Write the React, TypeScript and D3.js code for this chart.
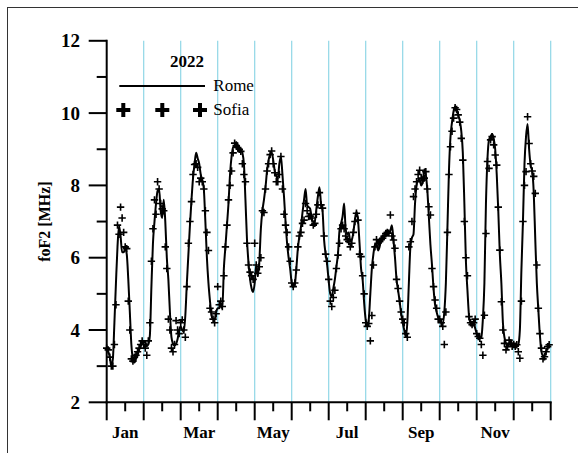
import React from "react";
import * as d3 from "d3";

const monthNames = ["Jan", "Feb", "Mar", "Apr", "May", "Jun", "Jul", "Aug", "Sep", "Oct", "Nov", "Dec"];
const labelledMonths = ["Jan", "Mar", "May", "Jul", "Sep", "Nov"];
const yMajorTicks = [2, 4, 6, 8, 10, 12];
const yMinorTicks = [3, 5, 7, 9, 11];
const chartTitle = "2022";
const yTitle = "foF2 [MHz]";
const seriesNames = ["Rome", "Sofia"];

// hourly monthly median foF2 (MHz), hours 0..23, one row per month
const rome: number[][] = [
  [3.47, 3.4, 3.25, 3.0, 3.2, 4.2, 5.3, 6.3, 6.88, 6.6, 6.15, 6.15, 6.25, 6.1, 5.4, 4.5, 3.6, 3.2, 3.1, 3.2, 3.3, 3.45, 3.55, 3.62],
  [3.65, 3.68, 3.55, 3.6, 3.85, 5.2, 6.4, 7.0, 7.5, 7.85, 7.9, 7.3, 7.1, 7.6, 7.0, 6.0, 5.4, 4.5, 3.8, 3.62, 3.57, 3.62, 3.75, 4.0],
  [4.1, 4.0, 3.95, 4.4, 5.3, 6.1, 6.9, 7.6, 8.2, 8.6, 8.9, 8.75, 8.6, 8.3, 8.15, 7.9, 7.0, 6.0, 5.3, 4.8, 4.4, 4.3, 4.3, 4.5],
  [4.6, 4.6, 4.7, 4.6, 5.7, 6.3, 6.9, 7.5, 8.3, 8.8, 9.05, 9.1, 9.2, 9.1, 9.0, 9.0, 8.9, 8.6, 7.6, 6.5, 5.85, 5.4, 5.15, 5.05],
  [5.3, 5.8, 5.5, 5.9, 6.8, 7.3, 7.6, 7.95, 8.4, 8.7, 8.85, 8.9, 8.7, 8.4, 8.25, 8.2, 8.6, 8.8, 8.3, 7.7, 7.0, 6.4, 6.0, 5.7],
  [5.3, 5.18, 5.25, 5.7, 6.25, 6.6, 6.85, 7.25, 7.6, 7.9, 7.45, 7.4, 7.35, 7.1, 7.0, 7.0, 7.35, 7.7, 7.95, 7.5, 7.3, 6.5, 6.1, 5.8],
  [5.35, 5.0, 4.92, 5.15, 5.4, 5.75, 6.1, 6.75, 6.95, 7.14, 7.5, 6.8, 6.65, 6.7, 6.45, 6.5, 6.7, 7.05, 7.27, 7.05, 6.4, 5.7, 5.4, 4.75],
  [4.28, 4.14, 4.3, 5.0, 5.7, 6.1, 6.35, 6.38, 6.2, 6.3, 6.5, 6.55, 6.6, 6.62, 6.65, 6.67, 6.75, 6.9, 6.5, 6.0, 5.4, 5.1, 4.8, 4.45],
  [4.2, 4.0, 3.82, 4.2, 5.3, 6.3, 6.55, 6.65, 7.5, 8.0, 8.15, 8.15, 8.0, 8.1, 8.45, 8.3, 7.85, 7.1, 6.35, 5.8, 5.15, 4.7, 4.5, 4.35],
  [4.3, 4.2, 4.18, 4.5, 5.3, 6.8, 8.4, 9.35, 9.75, 10.05, 10.18, 10.1, 9.95, 9.8, 9.5, 8.9, 7.5, 5.9, 5.1, 4.4, 4.2, 4.18, 4.2, 4.05],
  [3.9, 3.8, 3.77, 3.8, 4.3, 5.3, 7.5, 8.75, 9.26, 9.35, 9.42, 9.3, 9.0, 8.3, 7.3, 6.1, 5.3, 4.2, 3.8, 3.63, 3.55, 3.6, 3.72, 3.6],
  [3.55, 3.6, 3.55, 3.6, 4.0, 5.66, 7.0, 8.6, 9.35, 9.7, 9.0, 8.55, 8.4, 7.8, 6.5, 5.3, 4.55, 3.85, 3.4, 3.28, 3.3, 3.4, 3.5, 3.6],
];

const sofia: number[][] = [
  [3.5, 3.45, 3.25, 3.0, 3.0, 3.6, 4.7, 6.9, 6.65, 7.4, 7.1, 6.7, 6.3, 6.25, 4.8, 4.0, 3.2, 3.14, 3.25, 3.3, 3.4, 3.5, 3.6, 3.7],
  [3.6, 3.5, 3.3, 3.7, 4.2, 5.9, 6.8, 7.6, 7.2, 8.1, 7.9, 7.5, 7.35, 7.3, 6.3, 5.7, 4.3, 4.0, 3.5, 3.4, 3.6, 4.26, 4.0, 3.9],
  [4.2, 4.28, 4.0, 3.8, 5.2, 6.4, 7.0, 7.55, 8.3, 8.58, 8.6, 8.5, 8.1, 8.2, 8.1, 7.9, 7.3, 6.7, 6.2, 4.6, 4.5, 4.3, 4.2, 4.45],
  [5.2, 4.7, 4.8, 4.65, 5.5, 6.3, 6.9, 7.6, 8.0, 8.4, 8.9, 9.17, 9.1, 9.05, 9.0, 8.94, 8.6, 8.3, 8.1, 6.4, 5.8, 5.6, 5.5, 5.4],
  [6.4, 5.8, 5.57, 5.75, 6.0, 7.3, 7.25, 7.9, 8.4, 8.6, 8.85, 8.95, 8.6, 8.35, 8.1, 8.1, 8.3, 8.8, 7.9, 7.2, 6.9, 6.7, 6.3, 5.9],
  [5.3, 5.2, 5.3, 5.66, 6.3, 6.6, 6.7, 6.95, 7.04, 7.5, 7.3, 7.14, 7.15, 7.1, 6.9, 6.95, 7.2, 7.46, 7.8, 7.46, 7.37, 6.6, 6.1, 5.9],
  [5.4, 4.8, 4.65, 4.9, 5.1, 5.7, 6.07, 6.4, 6.8, 6.9, 6.8, 6.6, 6.5, 6.45, 6.3, 6.4, 6.7, 7.0, 7.23, 7.04, 6.1, 6.03, 5.5, 5.0],
  [4.2, 4.1, 4.18, 3.7, 4.4, 5.8, 6.3, 6.5, 6.4, 6.44, 6.5, 6.54, 6.6, 6.67, 6.7, 6.68, 7.18, 6.6, 6.49, 6.26, 5.4, 5.15, 4.8, 4.5],
  [4.3, 4.2, 3.9, 3.8, 6.3, 6.44, 7.0, 7.69, 7.9, 8.1, 8.3, 8.42, 8.2, 8.15, 8.2, 8.38, 7.9, 7.41, 7.18, 5.7, 5.2, 4.83, 4.6, 4.3],
  [4.3, 4.2, 4.1, 3.6, 4.5, 6.7, 8.3, 9.07, 9.5, 9.86, 10.15, 10.1, 9.95, 9.75, 9.3, 8.7, 7.0, 6.0, 5.5, 4.37, 4.2, 4.15, 4.2, 4.3],
  [3.9, 3.82, 3.77, 3.6, 3.3, 4.41, 6.67, 8.66, 8.47, 9.26, 9.35, 9.12, 8.84, 8.56, 7.4, 6.21, 4.78, 4.0, 3.63, 3.45, 3.54, 3.72, 3.63, 3.55],
  [3.6, 3.55, 3.59, 3.4, 3.22, 4.8, 7.0, 8.0, 8.38, 9.9, 9.16, 8.6, 8.4, 8.25, 7.78, 5.8, 4.6, 3.9, 3.5, 3.2, 3.26, 3.4, 3.54, 3.59],
];

const FONT = "'Liberation Serif', 'Times New Roman', Times, serif";

export default function App() {
  const W = 578;
  const H = 453;
  const x = d3.scaleLinear().domain([0, 12]).range([106.7, 550.7]);
  const y = d3.scaleLinear().domain([2, 12]).range([402.3, 40.8]);

  const toPts = (rows: number[][]) =>
    rows.flatMap((row, m) => row.map((v, h) => [m + h / 24, v] as [number, number]));
  const romePts = toPts(rome);
  const sofiaPts = toPts(sofia);

  const line = d3
    .line<[number, number]>()
    .x((d) => x(d[0]))
    .y((d) => y(d[1]))
    .curve(d3.curveMonotoneX);

  const monthBounds = d3.range(0, 13);
  const midMonths = d3.range(0, 12).map((m) => m + 0.5);
  const cs = 3.7;

  const crossPath = (cx: number, cy: number, s: number) =>
    `M${cx - s},${cy}H${cx + s}M${cx},${cy - s}V${cy + s}`;

  return (
    <svg
      width={W}
      height={H}
      style={{ position: "absolute", left: 0, top: 0, background: "#fff" }}
      fontFamily={FONT}
    >
      <rect x={0} y={0} width={W} height={H} fill="#fff" />
      {/* outer frame (top/left visible) */}
      <rect x={7.5} y={7.5} width={W + 20} height={H + 20} fill="none" stroke="#333" strokeWidth={1} />

      {/* month separators */}
      {monthBounds.slice(1).map((m) => (
        <line key={"c" + m} x1={x(m)} x2={x(m)} y1={y(12)} y2={y(2)} stroke="#8fd6e6" strokeWidth={1.2} />
      ))}

      {/* Sofia crosses */}
      <path
        d={sofiaPts.map((d) => crossPath(x(d[0]), y(d[1]), cs)).join("")}
        stroke="#000"
        strokeWidth={1.6}
        fill="none"
      />
      {/* Rome line */}
      <path d={line(romePts) || ""} fill="none" stroke="#000" strokeWidth={2} strokeLinejoin="round" />

      {/* axes */}
      <line x1={x(0)} x2={x(0)} y1={y(12) - 1} y2={y(2) + 1} stroke="#000" strokeWidth={2} />
      <line x1={x(0) - 1} x2={x(12) + 1} y1={y(2)} y2={y(2)} stroke="#000" strokeWidth={2} />
      {yMajorTicks.map((t) => (
        <g key={"yt" + t}>
          <line x1={x(0) - 18} x2={x(0)} y1={y(t)} y2={y(t)} stroke="#000" strokeWidth={2} />
          <text x={80} y={y(t)} dy="0.35em" textAnchor="end" fontWeight="bold" fontSize={19}>
            {t}
          </text>
        </g>
      ))}
      {yMinorTicks.map((t) => (
        <line key={"ym" + t} x1={x(0) - 10} x2={x(0)} y1={y(t)} y2={y(t)} stroke="#000" strokeWidth={2} />
      ))}
      {monthBounds.map((m) => (
        <line key={"xt" + m} x1={x(m)} x2={x(m)} y1={y(2)} y2={y(2) + 18} stroke="#000" strokeWidth={2} />
      ))}
      {midMonths.map((m) => (
        <line key={"xm" + m} x1={x(m)} x2={x(m)} y1={y(2)} y2={y(2) + 9} stroke="#000" strokeWidth={2} />
      ))}
      {labelledMonths.map((name) => {
        const i = monthNames.indexOf(name);
        return (
          <text key={name} x={x(i + 0.5)} y={437.5} textAnchor="middle" fontWeight="bold" fontSize={17}>
            {name}
          </text>
        );
      })}

      <text
        transform={`translate(50,${(y(12) + y(2)) / 2}) rotate(-90)`}
        textAnchor="middle"
        fontWeight="bold"
        fontSize={16}
      >
        {yTitle}
      </text>

      <text x={187} y={66.5} textAnchor="middle" fontWeight="bold" fontSize={17}>
        {chartTitle}
      </text>

      {/* legend */}
      <line x1={119.3} x2={205} y1={86} y2={86} stroke="#000" strokeWidth={2} />
      <text x={213.3} y={90.7} fontSize={17}>
        {seriesNames[0]}
      </text>
      {[123.3, 162.3, 200].map((cx) => (
        <path key={"lc" + cx} d={crossPath(cx, 110, 7)} stroke="#000" strokeWidth={4} />
      ))}
      <text x={213.3} y={114.5} fontSize={17}>
        {seriesNames[1]}
      </text>
    </svg>
  );
}
